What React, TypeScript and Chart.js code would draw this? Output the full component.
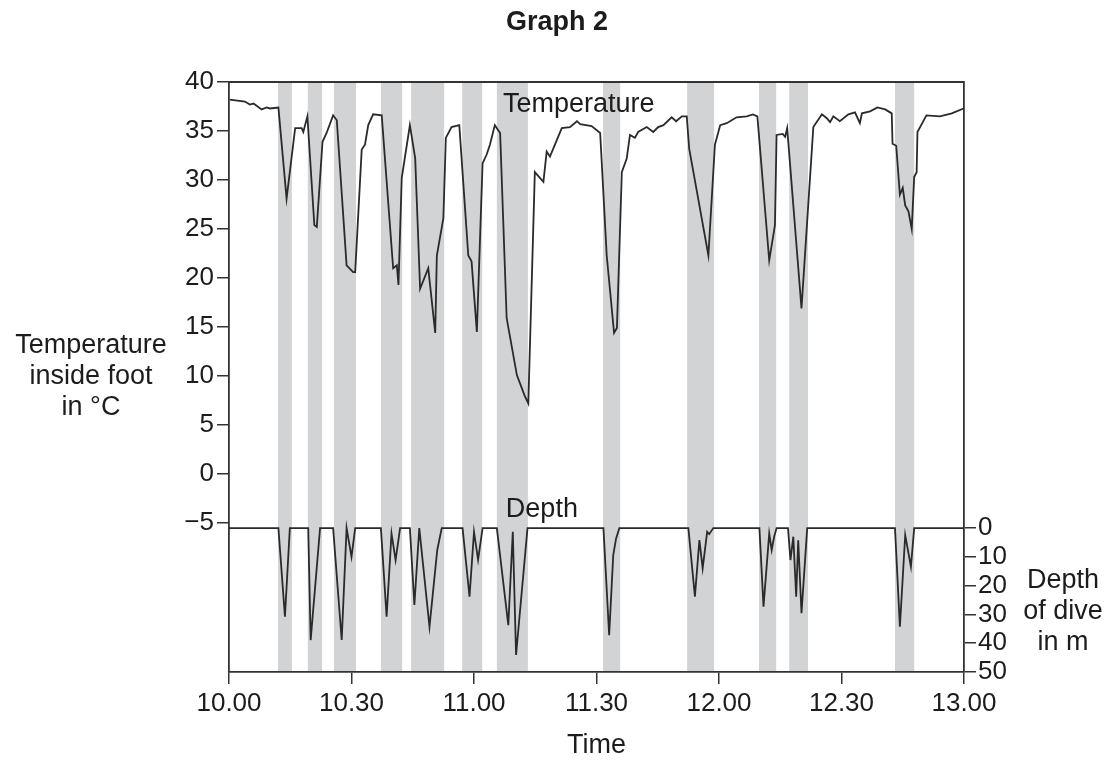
import React, { useEffect, useRef } from "react";
import { Chart, registerables } from "chart.js";

Chart.register(...registerables);

// ---- data ----
const timeTicks = [0, 30, 60, 90, 120, 150, 180];
const timeTickLabels = ["10.00", "10.30", "11.00", "11.30", "12.00", "12.30", "13.00"];
const tempTicks = [-5, 0, 5, 10, 15, 20, 25, 30, 35, 40];
const depthTicks = [0, 10, 20, 30, 40, 50];

// dive periods (minutes after 10.00)
const diveStart = [12.0, 19.3, 25.7, 37.2, 44.6, 57.1, 65.6, 91.6, 112.2, 129.8, 137.2, 163.1];
const diveEnd = [15.4, 22.8, 31.1, 42.4, 52.7, 62.0, 73.2, 95.8, 118.8, 134.0, 141.8, 167.8];

const tempTime = [
  0.2, 3.9, 5.1, 6.0, 8.0, 9.2, 10.0, 12.1, 14.1, 16.2, 17.8, 18.2, 19.2, 20.9, 21.5, 22.9, 23.9, 25.5, 26.4,
  28.8, 30.4, 30.9, 32.5, 33.3, 34.1, 35.3, 37.4, 40.2, 41.1, 41.5, 42.3, 44.3, 45.6, 46.8, 48.8, 50.5, 50.9,
  52.5, 53.1, 54.5, 56.4, 58.6, 59.4, 60.7, 62.1, 63.1, 63.9, 65.1, 66.4, 68.0, 70.5, 72.4, 73.3, 74.9, 77.0,
  77.8, 78.6, 80.3, 81.5, 83.5, 85.2, 86.0, 88.8, 90.9, 92.5, 94.3, 95.0, 96.2, 97.4, 98.2, 99.4, 100.2, 102.3,
  103.9, 105.1, 106.4, 108.4, 109.5, 110.9, 112.1, 112.7, 117.4, 119.0, 120.3, 121.9, 124.3, 126.8, 128.3,
  129.4, 132.3, 133.7, 134.1, 135.6, 136.2, 136.7, 140.2, 143.1, 145.2, 146.4, 147.2, 148.0, 149.6, 151.7,
  153.3, 154.5, 155.0, 157.0, 158.8, 160.7, 162.3, 162.5, 163.4, 164.3, 165.0, 165.6, 166.4, 167.2, 167.8,
  168.4, 168.6, 170.8, 174.1, 177.0, 179.9,
];
const tempValue = [
  38.2, 38.0, 37.7, 37.8, 37.2, 37.4, 37.3, 37.4, 28.1, 35.3, 35.3, 34.9, 36.5, 25.4, 25.2, 33.9, 34.8, 36.6, 36.1,
  21.3, 20.6, 20.6, 33.1, 33.6, 35.6, 36.7, 36.6, 21.0, 21.3, 19.3, 30.2, 35.6, 32.2, 18.9, 21.0, 14.4, 22.3,
  26.1, 34.3, 35.4, 35.6, 22.3, 21.7, 14.5, 31.7, 32.6, 33.6, 35.6, 34.8, 15.9, 10.1, 8.0, 7.2, 30.8, 29.8,
  32.9, 32.4, 34.1, 35.3, 35.4, 36.0, 35.7, 35.5, 34.8, 22.3, 14.4, 14.9, 30.8, 32.2, 34.6, 34.3, 34.9, 35.4,
  34.9, 35.4, 35.6, 36.4, 36.0, 36.5, 36.5, 33.2, 22.3, 33.6, 35.6, 35.8, 36.4, 36.5, 36.7,
  36.5, 21.8, 25.4, 34.6, 34.7, 34.4, 35.3, 16.9, 35.4, 36.7, 36.3, 35.9, 36.5, 36.0, 36.7,
  36.9, 35.8, 36.8, 37.0, 37.4, 37.2, 36.8, 33.7, 33.5, 28.5, 29.2, 27.4, 26.8, 25.0, 30.3,
  30.8, 34.9, 36.6, 36.5, 36.8, 37.3,
];

const depthTime = [
  0, 12.1, 13.7, 14.9, 19.4, 20.0, 22.3, 25.5, 27.6, 28.8, 30.0, 30.9, 37.2, 38.6, 39.8, 40.8, 41.9, 44.3, 45.4,
  46.6, 49.1, 51.0, 52.1, 57.2, 58.9, 60.0, 61.0, 62.1, 65.6, 68.4, 69.5, 70.3, 73.1, 91.7, 93.1, 94.1, 94.8,
  95.6, 112.5, 114.1, 115.2, 116.0, 117.1, 117.6, 118.6, 129.9, 130.9, 132.3, 132.9, 133.5, 134.1, 136.9, 137.5,
  138.2, 138.9, 139.4, 140.2, 141.6, 163.1, 164.3, 165.6, 167.0, 167.8, 180,
];
const depthValue = [
  0, 0, 30.8, 0, 0, 38.9, 0, 0, 38.9, 0, 10.0, 0, 0, 30.8, 1.9, 11.1, 0, 0, 26.7,
  0, 34.3, 7.6, 0, 0, 23.8, 1.3, 11.0, 0, 0, 33.7, 1.3, 44.1, 0, 0, 37.2, 9.4, 3.6,
  0, 0, 23.8, 4.2, 14.0, 1.3, 2.1, 0, 0, 27.3, 1.9, 7.6, 3.0, 0, 0, 11.1,
  3.0, 23.8, 4.2, 29.6, 0, 0, 34.3, 2.4, 13.4, 0, 0,
];

const FONT = "'Liberation Sans', Arial, Helvetica, sans-serif";
const INK = "#1c1c1c";
const AXIS = "#333333";
const BAND = "#d2d3d5";

const bandsPlugin = {
  id: "diveBands",
  beforeDraw(chart: any) {
    const { ctx, chartArea, scales } = chart;
    const x = scales.x;
    ctx.save();
    ctx.fillStyle = BAND;
    for (let i = 0; i < diveStart.length; i++) {
      const x0 = x.getPixelForValue(diveStart[i]);
      const x1 = x.getPixelForValue(diveEnd[i]);
      ctx.fillRect(x0, chartArea.top, x1 - x0, chartArea.bottom - chartArea.top);
    }
    ctx.restore();
  },
};

const textPlugin = {
  id: "texts",
  afterDraw(chart: any) {
    const { ctx, chartArea, scales } = chart;
    ctx.save();
    // top frame line
    ctx.strokeStyle = AXIS;
    ctx.lineWidth = 1.8;
    ctx.beginPath();
    ctx.moveTo(chartArea.left, chartArea.top);
    ctx.lineTo(chartArea.right, chartArea.top);
    ctx.stroke();

    ctx.fillStyle = INK;
    ctx.textBaseline = "alphabetic";
    // title
    ctx.font = `bold 27px ${FONT}`;
    ctx.textAlign = "center";
    ctx.fillText("Graph 2", 557, 30);

    ctx.font = `27px ${FONT}`;
    // left axis title
    ["Temperature", "inside foot", "in °C"].forEach((t, i) => ctx.fillText(t, 91, 353 + i * 31));
    // right axis title
    ["Depth", "of dive", "in m"].forEach((t, i) => ctx.fillText(t, 1063, 588 + i * 31));
    // x axis title
    ctx.fillText("Time", (chartArea.left + chartArea.right) / 2, 753);

    // in-plot labels
    ctx.textAlign = "left";
    ctx.fillText("Temperature", scales.x.getPixelForValue(67.1), scales.y.getPixelForValue(36.9));
    ctx.fillText("Depth", scales.x.getPixelForValue(67.8), scales.y2.getPixelForValue(-3.8));
    ctx.restore();
  },
};

const tickFont = { family: FONT, size: 26 };

export default function App() {
  const canvasRef = useRef<HTMLCanvasElement | null>(null);

  useEffect(() => {
    if (!canvasRef.current) return;
    const chart = new Chart(canvasRef.current, {
      type: "line",
      data: {
        datasets: [
          {
            label: "Temperature",
            data: tempTime.map((t, i) => ({ x: t, y: tempValue[i] })),
            yAxisID: "y",
            borderColor: "#2a2a2a",
            borderWidth: 1.8,
            pointRadius: 0,
            tension: 0,
          },
          {
            label: "Depth",
            data: depthTime.map((t, i) => ({ x: t, y: depthValue[i] })),
            yAxisID: "y2",
            borderColor: "#2a2a2a",
            borderWidth: 1.8,
            pointRadius: 0,
            tension: 0,
          },
        ],
      },
      options: {
        responsive: false,
        animation: false,
        layout: { padding: { top: 82, left: 0, right: 0, bottom: 0 } },
        plugins: { legend: { display: false }, tooltip: { enabled: false }, title: { display: false } },
        scales: {
          x: {
            type: "linear",
            position: "bottom",
            min: 0,
            max: 180,
            afterBuildTicks: (s: any) => {
              s.ticks = timeTicks.map((v) => ({ value: v }));
            },
            afterFit: (s: any) => {
              s.height = 91;
            },
            ticks: {
              autoSkip: false,
              maxRotation: 0,
              font: tickFont,
              color: INK,
              padding: 4,
              callback: (_v: any, i: number) => timeTickLabels[i],
            },
            grid: { display: true, drawOnChartArea: false, drawTicks: true, tickLength: 12, color: AXIS, lineWidth: 1.5 },
            border: { display: true, color: AXIS, width: 1.8 },
          },
          y: {
            type: "linear",
            position: "left",
            min: -20.2,
            max: 40,
            afterBuildTicks: (s: any) => {
              s.ticks = tempTicks.map((v) => ({ value: v }));
            },
            afterFit: (s: any) => {
              s.width = 229;
            },
            ticks: {
              autoSkip: false,
              font: tickFont,
              color: INK,
              padding: 3,
              callback: (v: any) => (v < 0 ? "\u2212" + Math.abs(v) : String(v)),
            },
            grid: { display: true, drawOnChartArea: false, drawTicks: true, tickLength: 12, color: AXIS, lineWidth: 1.5 },
            border: { display: true, color: AXIS, width: 1.8 },
          },
          y2: {
            type: "linear",
            position: "right",
            min: -155,
            max: 50,
            reverse: true,
            afterBuildTicks: (s: any) => {
              s.ticks = depthTicks.map((v) => ({ value: v }));
            },
            afterFit: (s: any) => {
              s.width = 148;
            },
            ticks: { autoSkip: false, font: tickFont, color: INK, padding: 2, callback: (v: any) => String(v) },
            grid: { display: true, drawOnChartArea: false, drawTicks: true, tickLength: 12, color: AXIS, lineWidth: 1.5 },
            border: { display: true, color: AXIS, width: 1.8 },
          },
        },
      },
      plugins: [bandsPlugin, textPlugin],
    } as any);
    return () => chart.destroy();
  }, []);

  return (
    <div style={{ position: "fixed", left: 0, top: 0, width: 1112, height: 763, background: "#fff" }}>
      <canvas ref={canvasRef} width={1112} height={763} style={{ width: 1112, height: 763 }} />
    </div>
  );
}
